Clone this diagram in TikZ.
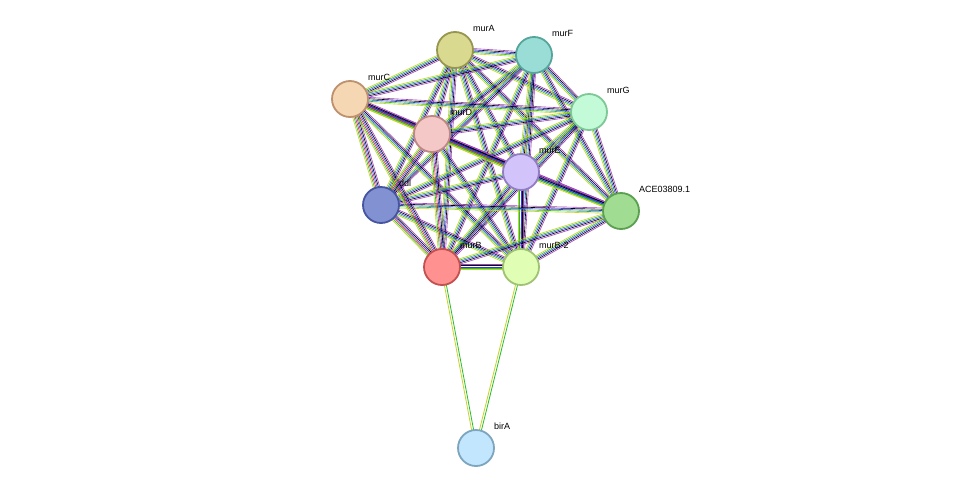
\documentclass[tikz,border=0pt]{standalone}
\usepackage{fontspec}
\setmainfont{Liberation Sans}
\usetikzlibrary{calc}
\begin{document}
\begin{tikzpicture}[x=1pt,y=-1pt,
  prot/.style={circle,minimum size=36pt,inner sep=0pt,line width=1.8pt},
  lbl/.style={font=\fontsize{9}{10}\selectfont,anchor=west,inner sep=0pt}]
\useasboundingbox[fill=white] (0,0) rectangle (975,493);
\coordinate (A) at (455,50);
\coordinate (F) at (534,55);
\coordinate (C) at (350,99);
\coordinate (G) at (589,112);
\coordinate (D) at (432,134);
\coordinate (E) at (521,172);
\coordinate (L) at (381,205);
\coordinate (X) at (621,211);
\coordinate (B) at (442,267);
\coordinate (BB) at (521,267);
\coordinate (R) at (476,448);
\definecolor{eY}{RGB}{200,210,40}
\definecolor{eG}{RGB}{40,190,40}
\definecolor{eB}{RGB}{40,60,240}
\definecolor{eM}{RGB}{160,60,200}
\definecolor{eR}{RGB}{230,30,30}
\newcommand\bundle[3]{%
 \foreach \c [count=\i] in {#3}{%
  \pgfmathsetmacro\o{(\i-3)*1.3}
  \draw[\c,line width=0.6pt] ($(#1)!\o pt!90:(#2)$) -- ($(#2)!\o pt!-90:(#1)$);}}
\foreach \a/\b in {A/F,A/C,A/G,A/D,A/E,A/L,A/X,A/B,A/BB,F/C,F/G,F/D,F/E,F/L,F/X,F/B,F/BB,C/G,C/E,C/X,C/BB,G/D,G/E,G/L,G/X,G/B,G/BB,D/X,D/BB,E/L,E/X,E/B,E/BB,L/X,L/BB,X/B,X/BB,B/BB}{\bundle{\a}{\b}{eY,eG,eB,black,eM}}
\foreach \a/\b in {C/D,C/L,C/B,D/E,D/L,D/B,L/B}{\bundle{\a}{\b}{eY,eG,eR,eB,black,eM}}
\foreach \a in {B,BB}{
 \draw[eY,line width=0.8pt] ($(\a)!-1pt!90:(R)$) -- ($(R)!-1pt!-90:(\a)$);
 \draw[eG,line width=0.8pt] ($(\a)!1pt!90:(R)$) -- ($(R)!1pt!-90:(\a)$);}
\node[prot,fill={rgb,255:red,217;green,217;blue,143},draw={rgb,255:red,150;green,150;blue,80}] (nA) at (A) {};
\node[prot,fill={rgb,255:red,153;green,221;blue,214},draw={rgb,255:red,85;green,165;blue,155}] (nF) at (F) {};
\node[prot,fill={rgb,255:red,245;green,215;blue,180},draw={rgb,255:red,190;green,145;blue,110}] (nC) at (C) {};
\node[prot,fill={rgb,255:red,195;green,250;blue,215},draw={rgb,255:red,125;green,200;blue,150}] (nG) at (G) {};
\node[prot,fill={rgb,255:red,245;green,200;blue,200},draw={rgb,255:red,190;green,135;blue,135}] (nD) at (D) {};
\node[prot,fill={rgb,255:red,210;green,195;blue,250},draw={rgb,255:red,145;green,125;blue,195}] (nE) at (E) {};
\node[prot,fill={rgb,255:red,130;green,145;blue,210},draw={rgb,255:red,70;green,85;blue,160}] (nL) at (L) {};
\node[prot,fill={rgb,255:red,160;green,220;blue,145},draw={rgb,255:red,90;green,160;blue,80}] (nX) at (X) {};
\node[prot,fill={rgb,255:red,255;green,145;blue,145},draw={rgb,255:red,195;green,80;blue,80}] (nB) at (B) {};
\node[prot,fill={rgb,255:red,225;green,255;blue,180},draw={rgb,255:red,160;green,195;blue,115}] (nBB) at (BB) {};
\node[prot,fill={rgb,255:red,195;green,230;blue,255},draw={rgb,255:red,125;green,165;blue,190}] (nR) at (R) {};
\foreach \n/\t in {A/murA,F/murF,C/murC,G/murG,D/murD,E/murE,L/ddl,X/ACE03809.1,B/murB,BB/murB-2,R/birA}
  \node[lbl] (t\n) at ($(\n)+(18,-22)$) {\t};
\end{tikzpicture}
\end{document}
